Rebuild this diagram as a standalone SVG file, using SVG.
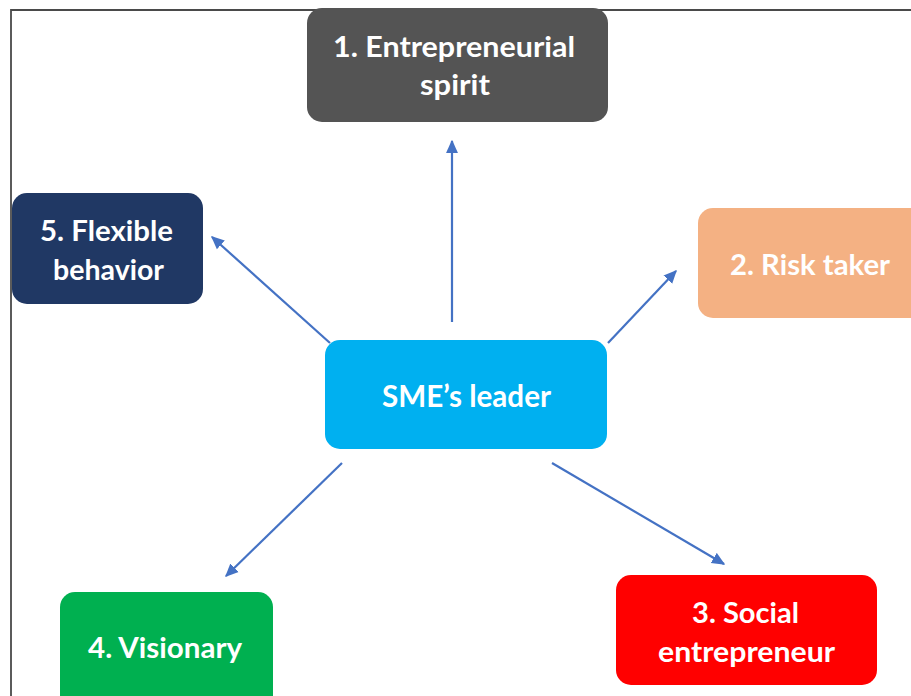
<svg xmlns="http://www.w3.org/2000/svg" width="911" height="696" viewBox="0 0 911 696">
  <style>
    .frame { fill: none; stroke: #4a4a4a; stroke-width: 1.8; }
    .box { stroke: none; }
    .lbl { font-family: Lato, "Open Sans", "Liberation Sans", sans-serif; font-size: 28px; font-weight: bold; fill: #ffffff; text-anchor: middle; }
    .link { stroke: #4472C4; stroke-width: 2.2; fill: none; marker-end: url(#head); }
  </style>
  <defs>
    <marker id="head" viewBox="0 0 10 10" refX="9" refY="5" markerWidth="6" markerHeight="6" orient="auto" markerUnits="strokeWidth">
      <path d="M0,0.5 L10,5 L0,9.5 Z" fill="#4472C4"/>
    </marker>
  </defs>

  <rect width="911" height="696" fill="#ffffff"/>

  <!-- outer frame (top and left edges visible) -->
  <path class="frame" d="M11,696 V10 H911"/>

  <!-- connectors from the central node -->
  <g id="connectors">
    <line class="link" x1="452" y1="322" x2="452" y2="141"/>
    <line class="link" x1="608" y1="343" x2="676" y2="271"/>
    <line class="link" x1="552" y1="463" x2="724" y2="564"/>
    <line class="link" x1="342" y1="463" x2="226" y2="576"/>
    <line class="link" x1="330" y1="343" x2="212" y2="237"/>
  </g>

  <g id="node-center">
    <rect class="box" x="325" y="340" width="282" height="109" rx="15" fill="#00B0F0"/>
    <text class="lbl" x="466.5" y="407" textLength="169" lengthAdjust="spacingAndGlyphs" style="font-size:30px">SME’s leader</text>
  </g>

  <g id="node-1">
    <rect class="box" x="307" y="8" width="301" height="114" rx="15" fill="#545454"/>
    <text class="lbl" x="454" y="57" textLength="242" lengthAdjust="spacingAndGlyphs">1. Entrepreneurial</text>
    <text class="lbl" x="455" y="95" textLength="70" lengthAdjust="spacingAndGlyphs">spirit</text>
  </g>

  <g id="node-2">
    <rect class="box" x="698" y="208" width="240" height="110" rx="15" fill="#F4B183"/>
    <text class="lbl" x="810" y="275" textLength="160" lengthAdjust="spacingAndGlyphs">2. Risk taker</text>
  </g>

  <g id="node-3">
    <rect class="box" x="616" y="575" width="261" height="110" rx="15" fill="#FF0000"/>
    <text class="lbl" x="745.5" y="623" textLength="107" lengthAdjust="spacingAndGlyphs">3. Social</text>
    <text class="lbl" x="746.5" y="662" textLength="177" lengthAdjust="spacingAndGlyphs">entrepreneur</text>
  </g>

  <g id="node-4">
    <rect class="box" x="60" y="592" width="213" height="120" rx="15" fill="#00B050"/>
    <text class="lbl" x="165" y="658" textLength="154" lengthAdjust="spacingAndGlyphs">4. Visionary</text>
  </g>

  <g id="node-5">
    <rect class="box" x="12" y="193" width="191" height="111" rx="15" fill="#203864"/>
    <text class="lbl" x="106.5" y="241" textLength="133" lengthAdjust="spacingAndGlyphs">5. Flexible</text>
    <text class="lbl" x="108.5" y="280" textLength="111" lengthAdjust="spacingAndGlyphs">behavior</text>
  </g>
</svg>
